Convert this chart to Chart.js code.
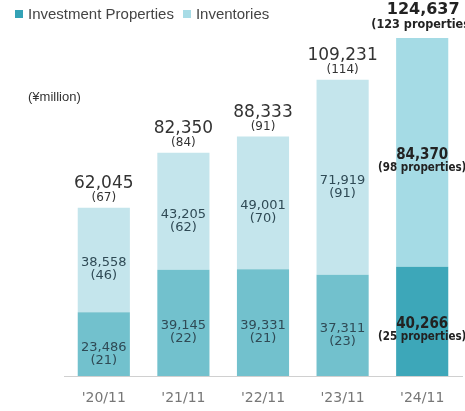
<!DOCTYPE html>
<html>
<head>
<meta charset="utf-8">
<script src="https://cdn.jsdelivr.net/npm/chart.js@4/dist/chart.umd.min.js"></script>
<style>
  html, body { margin: 0; padding: 0; background: #fff; }
  #wrap { position: relative; width: 465px; height: 411px; }
  #chart { display: block; }
  #legend { position: absolute; left: 15px; top: 5px; font: 15px "Liberation Sans", Arial, sans-serif; color: #444; white-space: nowrap; }
  #legend span.box { display: inline-block; width: 8px; height: 8px; margin-right: 5px; vertical-align: 1px; }
  #legend span.item { margin-right: 9px; }
  #unit { position: absolute; left: 28px; top: 89px; font: 13px "Liberation Sans", Arial, sans-serif; color: #333; }
</style>
</head>
<body>
<div id="wrap">
  <canvas id="chart" width="465" height="411"></canvas>
  <div id="legend"></div>
  <div id="unit">(¥million)</div>
</div>
<script>
const periods = ["'20/11", "'21/11", "'22/11", "'23/11", "'24/11"];
const investment = [23486, 39145, 39331, 37311, 40266];
const inventories = [38558, 43205, 49001, 71919, 84370];
const investmentCount = [21, 22, 21, 23, 25];
const inventoryCount = [46, 62, 70, 91, 98];
const totals = [62045, 82350, 88333, 109231, 124637];
const totalCount = [67, 84, 91, 114, 123];

const fmt = n => n.toLocaleString('en-US');
const last = periods.length - 1;
const legendColors = ['#34a2b6', '#a8dce6'];

// value labels inside segments and totals above each stack
const labelPlugin = {
  id: 'stackLabels',
  afterDatasetsDraw(chart) {
    const ctx = chart.ctx;
    ctx.save();
    ctx.textAlign = 'center';
    ctx.textBaseline = 'middle';
    const counts = [investmentCount, inventoryCount];
    chart.data.datasets.forEach((ds, di) => {
      chart.getDatasetMeta(di).data.forEach((bar, i) => {
        const mid = (bar.y + bar.base) / 2;
        if (i === last) {
          ctx.fillStyle = '#222';
          ctx.font = 'bold 15px "DejaVu Sans Condensed"';
          ctx.fillText(fmt(ds.data[i]), bar.x, mid + 3);
          ctx.font = 'bold 11.5px "DejaVu Sans Condensed"';
          ctx.fillText('(' + counts[di][i] + ' properties)', bar.x, mid + 16);
        } else {
          ctx.fillStyle = '#2f4a55';
          ctx.font = '13px "DejaVu Sans"';
          ctx.fillText(fmt(ds.data[i]), bar.x, mid + 3);
          ctx.fillText('(' + counts[di][i] + ')', bar.x, mid + 16);
        }
      });
    });
    chart.getDatasetMeta(1).data.forEach((bar, i) => {
      if (i === last) {
        ctx.fillStyle = '#222';
        ctx.font = 'bold 16px "DejaVu Sans"';
        ctx.fillText(fmt(totals[i]), bar.x + 1, bar.y - 28);
        ctx.font = 'bold 12.5px "DejaVu Sans Condensed"';
        ctx.fillText('(' + totalCount[i] + ' properties)', bar.x + 1, bar.y - 13);
      } else {
        ctx.fillStyle = '#333';
        ctx.font = '17px "DejaVu Sans"';
        ctx.fillText(fmt(totals[i]), bar.x, bar.y - 24);
        ctx.font = '12px "DejaVu Sans"';
        ctx.fillText('(' + totalCount[i] + ')', bar.x, bar.y - 10);
      }
    });
    ctx.restore();
  }
};

const chart = new Chart(document.getElementById('chart'), {
  type: 'bar',
  data: {
    labels: periods,
    datasets: [
      {
        label: 'Investment Properties',
        data: investment,
        backgroundColor: periods.map((_, i) => i === last ? '#3da7b9' : '#72c1cd')
      },
      {
        label: 'Inventories',
        data: inventories,
        backgroundColor: periods.map((_, i) => i === last ? '#a5dbe5' : '#c4e5ec')
      }
    ]
  },
  options: {
    responsive: false,
    animation: false,
    categoryPercentage: 1,
    barPercentage: 0.655,
    layout: { padding: { left: 64, right: 3, top: 38, bottom: 0 } },
    plugins: {
      legend: { display: false },
      tooltip: { enabled: false }
    },
    scales: {
      x: {
        stacked: true,
        grid: { display: false, drawTicks: false },
        border: { display: true, color: '#d0d0d0' },
        ticks: { color: '#777', padding: 14, font: { family: '"DejaVu Sans"', size: 14 } },
        afterFit(scale) { scale.height = 35; }
      },
      y: {
        stacked: true,
        display: false,
        min: 0,
        max: 124637
      }
    }
  },
  plugins: [labelPlugin]
});

// legend built from the dataset labels
document.getElementById('legend').innerHTML = chart.data.datasets.map((ds, i) =>
  '<span class="item"><span class="box" style="background:' + legendColors[i] + '"></span>' + ds.label + '</span>'
).join('');
</script>
</body>
</html>
